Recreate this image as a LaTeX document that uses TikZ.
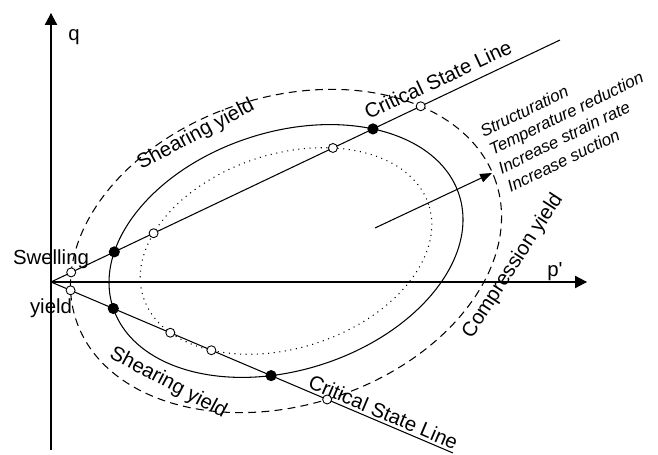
\documentclass[tikz,border=0pt]{standalone}
\usepackage{fontspec}
\setmainfont{Liberation Sans}
\usetikzlibrary{arrows.meta,intersections}

\tikzset{
	lbl/.style={inner sep=0pt, font=\fontsize{11.6}{13.9}\selectfont},
	cause/.style={inner sep=0pt, align=left, font=\fontsize{9.6}{11.7}\selectfont\itshape},
	opendot/.style={draw, circle, fill=white, inner sep=0pt, minimum size=5.1pt, line width=0.5pt},
	fulldot/.style={draw, circle, fill=black, inner sep=0pt, minimum size=5.7pt},
	axis/.style={-{Triangle[length=6.8pt,width=7pt]}},
	yieldout/.style={dash pattern=on 4.5pt off 3pt},
	yieldin/.style={dash pattern=on 0.6pt off 2.6pt}
}

\begin{document}
\begin{tikzpicture}[x=0.02cm, y=0.02cm, line width=0.6pt]
	\useasboundingbox (-51,-173) rectangle (607,282);
	\coordinate (O) at (0,0);
	\coordinate (qlow) at (0,-168);
	\coordinate (qtop) at (0,269);
	\coordinate (pend) at (536,0);
	\coordinate (cslup) at (509,242);
	\coordinate (csldown) at (402,-171);
	\coordinate (C) at (235,31);
	\coordinate (from) at (324,54);
	\coordinate (to) at (441,109);
	
	\draw[axis] (qlow) -- (qtop);
	\draw[axis] (O) -- (pend);
	
	\draw[yieldout, name path=outer, rotate around={18:(C)}] (C) ellipse [x radius=221, y radius=154];
	\draw[name path=mid, rotate around={18:(C)}] (C) ellipse [x radius=182, y radius=119];
	\draw[yieldin, name path=inner, rotate around={18:(C)}] (C) ellipse [x radius=150, y radius=97];
	
	\draw[name path=up] (O) -- (cslup);
	\draw[name path=down] (O) -- (csldown);
	\draw[-{Triangle[length=6.8pt,width=5pt]}] (from) -- (to);
	
	\path[name intersections={of=up and outer, name=uo}];
	\path[name intersections={of=up and mid, name=um}];
	\path[name intersections={of=up and inner, name=ui}];
	\path[name intersections={of=down and outer, name=do}];
	\path[name intersections={of=down and mid, name=dm}];
	\path[name intersections={of=down and inner, name=di}];
	\foreach \S in {uo,ui,do,di}{
		\node[opendot] (\S a) at (\S-1) {};
		\node[opendot] (\S b) at (\S-2) {};
	}
	\foreach \S in {um,dm}{
		\node[fulldot] (\S a) at (\S-1) {};
		\node[fulldot] (\S b) at (\S-2) {};
	}
	
	\node[lbl] (q) at (23,244.5) {q};
	\node[lbl] (p) at (504,10) {p\textquotesingle};
	\node[lbl] (swell) at (0,23) {Swelling};
	\node[lbl] (swyield) at (0,-26) {yield};
	\node[lbl, rotate=28] (shearup) at (145,147) {Shearing yield};
	\node[lbl, rotate=-28] (sheardown) at (117,-101) {Shearing yield};
	\node[lbl, rotate=25] (cslupname) at (387,202.5) {Critical State Line};
	\node[lbl, rotate=-23] (csldownname) at (332.5,-130) {Critical State Line};
	\node[lbl, rotate=57] (comp) at (462,16) {Compression yield};
	\node[cause, anchor=north west, rotate=26] (causes) at (426.7,155.9) {Structuration\\Temperature reduction\\Increase strain rate\\Increase suction};
\end{tikzpicture}
\end{document}
